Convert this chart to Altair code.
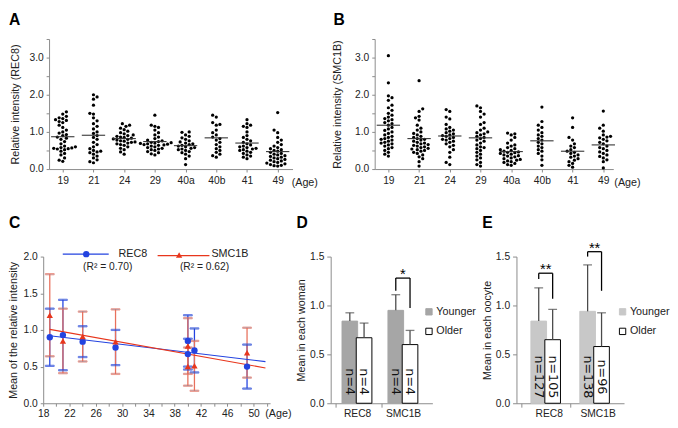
import json
import altair as alt
import pandas as pd

FONT = "Liberation Sans"
TXT = "#222222"
AXC = "#8a8a8a"

# ---------------- Panels A / B : per-oocyte relative intensities ----------------
age_labels = ["19", "21", "24", "29", "40a", "40b", "41", "49"]

rec8_19 = [1.54, 1.48, 1.42, 1.38, 1.36, 1.33, 1.31, 1.28, 1.25, 1.18, 1.12, 1.05, 1.00, 0.97, 0.93, 0.90, 0.86, 0.83,
           0.80, 0.74, 0.68, 0.62, 0.60, 0.58, 0.57, 0.56, 0.55, 0.54, 0.52, 0.48, 0.42, 0.38, 0.30, 0.24, 0.21]
rec8_21 = [2.00, 1.94, 1.88, 1.72, 1.50, 1.48, 1.38, 1.30, 1.22, 1.15, 1.08, 1.00, 0.96, 0.90, 0.85, 0.80, 0.72, 0.66,
           0.60, 0.55, 0.50, 0.48, 0.46, 0.44, 0.40, 0.35, 0.30, 0.25, 0.20, 0.17]
rec8_24 = [1.22, 1.18, 1.15, 1.10, 1.06, 1.02, 0.98, 0.95, 0.92, 0.90, 0.88, 0.86, 0.85, 0.83, 0.81, 0.80, 0.78, 0.76,
           0.75, 0.73, 0.72, 0.70, 0.68, 0.66, 0.64, 0.60, 0.56, 0.52, 0.46, 0.40]
rec8_29 = [1.45, 1.18, 1.15, 1.12, 1.05, 0.98, 0.92, 0.86, 0.82, 0.78, 0.76, 0.74, 0.72, 0.71, 0.70, 0.69, 0.68, 0.67,
           0.66, 0.65, 0.64, 0.62, 0.60, 0.58, 0.56, 0.54, 0.52, 0.50, 0.47, 0.44, 0.41, 0.38]
rec8_40a = [1.00, 0.99, 0.92, 0.88, 0.84, 0.80, 0.76, 0.73, 0.70, 0.68, 0.66, 0.64, 0.62, 0.60, 0.58, 0.56, 0.54, 0.52,
            0.50, 0.47, 0.44, 0.40, 0.35, 0.28, 0.12]
rec8_40b = [1.45, 1.40, 1.25, 1.20, 1.18, 1.05, 0.98, 0.92, 0.86, 0.82, 0.78, 0.72, 0.66, 0.60, 0.55, 0.50, 0.45, 0.40,
            0.36, 0.32]
rec8_41 = [1.33, 1.22, 1.18, 1.15, 1.12, 1.00, 0.90, 0.85, 0.80, 0.76, 0.72, 0.68, 0.65, 0.62, 0.60, 0.58, 0.56, 0.54,
           0.52, 0.50, 0.48, 0.45, 0.42, 0.38, 0.35, 0.32, 0.28]
rec8_49 = [1.52, 1.05, 0.98, 0.85, 0.78, 0.72, 0.66, 0.62, 0.58, 0.55, 0.52, 0.50, 0.48, 0.45, 0.42, 0.40, 0.38, 0.36,
           0.34, 0.32, 0.30, 0.28, 0.26, 0.24, 0.22, 0.20, 0.18, 0.16, 0.14, 0.12, 0.10, 0.09, 0.08]
rec8_mean_lines = [0.87, 0.91, 0.82, 0.74, 0.63, 0.84, 0.70, 0.47]

smc1b_19 = [3.05, 2.32, 1.97, 1.92, 1.85, 1.72, 1.65, 1.58, 1.50, 1.45, 1.40, 1.36, 1.33, 1.30, 1.25, 1.22, 1.18, 1.12,
            1.08, 1.04, 1.00, 0.96, 0.92, 0.88, 0.85, 0.82, 0.80, 0.78, 0.75, 0.72, 0.70, 0.68, 0.65, 0.62, 0.58, 0.55,
            0.50, 0.45, 0.40, 0.35]
smc1b_21 = [2.38, 1.62, 1.55, 1.42, 1.38, 1.32, 1.18, 1.10, 1.05, 1.00, 0.96, 0.92, 0.88, 0.85, 0.82, 0.80, 0.78, 0.75,
            0.72, 0.70, 0.68, 0.66, 0.64, 0.62, 0.60, 0.58, 0.56, 0.54, 0.52, 0.50, 0.48, 0.45, 0.42, 0.38, 0.33, 0.28,
            0.20, 0.08]
smc1b_24 = [1.60, 1.55, 1.40, 1.35, 1.20, 1.12, 1.08, 1.05, 1.02, 0.98, 0.95, 0.92, 0.90, 0.88, 0.85, 0.82, 0.80, 0.78,
            0.75, 0.72, 0.68, 0.64, 0.60, 0.52, 0.45, 0.32, 0.18, 0.12]
smc1b_29 = [1.70, 1.65, 1.55, 1.48, 1.40, 1.25, 1.20, 1.10, 1.05, 1.00, 0.98, 0.95, 0.92, 0.88, 0.85, 0.82, 0.78, 0.75,
            0.70, 0.65, 0.60, 0.58, 0.55, 0.50, 0.45, 0.40, 0.35, 0.30, 0.25, 0.18, 0.12, 0.08]
smc1b_40a = [0.97, 0.95, 0.92, 0.85, 0.78, 0.70, 0.65, 0.62, 0.58, 0.55, 0.52, 0.50, 0.48, 0.46, 0.45, 0.44, 0.42, 0.40,
             0.38, 0.36, 0.35, 0.33, 0.30, 0.28, 0.26, 0.24, 0.22, 0.20, 0.18, 0.15, 0.12, 0.10]
smc1b_40b = [1.67, 1.28, 1.18, 1.12, 1.05, 0.98, 0.92, 0.88, 0.82, 0.78, 0.72, 0.68, 0.62, 0.58, 0.52, 0.48, 0.42, 0.35,
             0.25, 0.10]
smc1b_41 = [1.38, 1.12, 0.85, 0.78, 0.68, 0.62, 0.58, 0.52, 0.48, 0.45, 0.42, 0.38, 0.35, 0.32, 0.28, 0.24, 0.20, 0.15,
            0.10, 0.05]
smc1b_49 = [1.56, 1.18, 1.10, 1.02, 0.92, 0.88, 0.86, 0.84, 0.80, 0.76, 0.72, 0.68, 0.62, 0.58, 0.55, 0.50, 0.46, 0.42,
            0.38, 0.34, 0.30, 0.25, 0.20, 0.03]
smc1b_mean_lines = [1.18, 0.82, 0.89, 0.84, 0.47, 0.76, 0.48, 0.65]

rec8_groups = [rec8_19, rec8_21, rec8_24, rec8_29, rec8_40a, rec8_40b, rec8_41, rec8_49]
smc1b_groups = [smc1b_19, smc1b_21, smc1b_24, smc1b_29, smc1b_40a, smc1b_40b, smc1b_41, smc1b_49]

# ---------------- Panel C : mean +/- SD per woman ----------------
c_age = [19, 21, 24, 29, 40, 40, 41, 49]
c_rec8_mean = [0.90, 0.93, 0.84, 0.76, 0.67, 0.85, 0.72, 0.50]
c_rec8_sd = [0.39, 0.48, 0.21, 0.24, 0.21, 0.35, 0.30, 0.30]
c_smc1b_mean = [1.20, 0.85, 0.91, 0.84, 0.50, 0.78, 0.51, 0.69]
c_smc1b_sd = [0.56, 0.44, 0.34, 0.44, 0.26, 0.38, 0.34, 0.34]
c_series = ["REC8", "SMC1B"]
c_r2 = ["(R\u00b2 = 0.70)", "(R\u00b2 = 0.62)"]

# ---------------- Panels D / E : younger vs older ----------------
proteins = ["REC8", "SMC1B"]
groups = ["Younger", "Older"]

d_young_mean = [0.84, 0.95]
d_young_upper = [0.925, 1.11]
d_old_mean = [0.67, 0.60]
d_old_upper = [0.82, 0.745]
d_young_n = [4, 4]
d_old_n = [4, 4]
d_brackets = [("SMC1B", 1.15, 1.28, 0.975, "*")]   # protein, left end, top, right end, label

e_young_mean = [0.84, 0.94]
e_young_upper = [1.18, 1.415]
e_old_mean = [0.65, 0.58]
e_old_upper = [0.96, 0.925]
e_young_n = [127, 138]
e_old_n = [105, 96]
e_brackets = [("REC8", 1.27, 1.33, 1.07, "**"), ("SMC1B", 1.50, 1.55, 1.15, "**")]

BLUE = "#2343e0"
RED = "#e8361c"
RED_ERR = "#e8705c"

RES_SCALES = dict(color="independent", stroke="independent", fill="independent", shape="independent")
RES_LEGENDS = dict(color="independent", stroke="independent", fill="independent", shape="independent")


def swarm(vals, px_per_unit, diam=3.7, step=1.85):
    placed = []
    out = []
    for v in vals:
        y = v * px_per_unit
        k = 0
        while True:
            cands = [0.0] if k == 0 else ([k * step, -k * step] if len(placed) % 2 == 0 else [-k * step, k * step])
            hit = None
            for cx in cands:
                if all((cx - px) ** 2 + (y - py) ** 2 >= diam ** 2 for px, py in placed):
                    hit = cx
                    break
            if hit is not None:
                break
            k += 1
        placed.append((hit, y))
        out.append((v, hit))
    return out


def letter(t, x, y):
    return alt.Chart(pd.DataFrame({"t": [t]})).mark_text(
        align="left", baseline="alphabetic", fontSize=16, fontWeight="bold", font=FONT, color="black"
    ).encode(text="t:N", x=alt.value(x), y=alt.value(y))


def dot_panel(groups_vals, means, ytitle, width, letter_txt, letter_x, title_x, age_x):
    height = 133
    ppu = height / 3.5
    ppc = 31.4
    d0 = -0.446
    d1 = d0 + width / ppc
    rows = []
    for i, vals in enumerate(groups_vals):
        for v, dx in swarm(sorted(vals), ppu):
            rows.append({"pos": i + dx / ppc, "value": v})
    pts = pd.DataFrame(rows)
    mdf = pd.DataFrame({"idx": list(range(len(means))), "mean": means})
    xscale = alt.Scale(domain=[d0, d1], nice=False, zero=False)
    yscale = alt.Scale(domain=[0, 3.5], nice=False, zero=False)
    xaxis = alt.Axis(values=list(range(len(age_labels))),
                     labelExpr=json.dumps(age_labels) + "[datum.value]",
                     title="(Age)", titleX=age_x, titleY=14, titleAngle=0, titleAlign="center",
                     titleBaseline="middle", titleFontWeight="normal", titleFontSize=11, titleFont=FONT,
                     titleColor=TXT, labelFlush=False, labelOverlap=False, tickSize=3, labelPadding=4,
                     labelFontSize=10.5, labelFont=FONT, labelColor=TXT, domainColor=AXC, tickColor=AXC, grid=False)
    yaxis = alt.Axis(values=[0, 0.5, 1, 1.5, 2, 2.5, 3, 3.5],
                     labelExpr="datum.value % 1 === 0 ? format(datum.value, '.1f') : ''",
                     title=ytitle, titleX=title_x, titleBaseline="middle", titleFontWeight="normal",
                     titleFontSize=11, titleFont=FONT, titleColor=TXT, tickSize=3, labelPadding=3,
                     labelFontSize=10.5, labelFont=FONT, labelColor=TXT, domainColor=AXC, tickColor=AXC,
                     labelFlush=False, grid=False)
    dots = alt.Chart(pts).mark_circle(size=11, color="black", opacity=1).encode(
        x=alt.X("pos:Q", scale=xscale, axis=xaxis),
        y=alt.Y("value:Q", scale=yscale, axis=yaxis),
    )
    lines = alt.Chart(mdf).transform_calculate(
        x1="datum.idx - 0.38", x2="datum.idx + 0.38"
    ).mark_rule(color="#333333", strokeWidth=1.1).encode(
        x=alt.X("x1:Q", scale=xscale, axis=xaxis), x2="x2:Q",
        y=alt.Y("mean:Q", scale=yscale, axis=yaxis),
    )
    return alt.layer(dots, lines, letter(letter_txt, letter_x, -14)).properties(width=width, height=height)


chart_a = dot_panel(rec8_groups, rec8_mean_lines, "Relative intensity (REC8)", 249, "A", -41, -34.5, 261)
chart_b = dot_panel(smc1b_groups, smc1b_mean_lines, "Relative intensity (SMC1B)", 244, "B", -42, -37.5, 258)

# ---------------- Panel C ----------------
cdf = pd.DataFrame({
    "age": c_age + c_age,
    "mean": c_rec8_mean + c_smc1b_mean,
    "sd": c_rec8_sd + c_smc1b_sd,
    "protein": [c_series[0]] * len(c_age) + [c_series[1]] * len(c_age),
})
cdf["lo"] = cdf["mean"] - cdf["sd"]
cdf["hi"] = cdf["mean"] + cdf["sd"]

cx = alt.Scale(domain=[18, 52.5], nice=False, zero=False)
cy = alt.Scale(domain=[0, 2], nice=False, zero=False)
c_xaxis = alt.Axis(values=list(range(18, 53, 2)), labelExpr="(datum.value - 18) % 4 === 0 ? datum.value : ''",
                   title="(Age)", titleX=240, titleY=11, titleAngle=0, titleAlign="center", titleBaseline="middle",
                   titleFontWeight="normal", titleFontSize=11, titleFont=FONT, titleColor=TXT, tickSize=3,
                   labelPadding=3, labelFontSize=10.5, labelFont=FONT, labelColor=TXT, domainColor=AXC,
                   tickColor=AXC, labelFlush=False, labelOverlap=False, grid=False)
c_yaxis = alt.Axis(values=[0, 0.5, 1, 1.5, 2], format=".1f", title="Mean of the relative intensity", titleX=-30,
                   titleBaseline="middle", titleFontWeight="normal", titleFontSize=11, titleFont=FONT,
                   titleColor=TXT, tickSize=3, labelPadding=3, labelFontSize=10.5, labelFont=FONT, labelColor=TXT,
                   domainColor=AXC, tickColor=AXC, labelFlush=False, grid=False)
ccol = alt.Color("protein:N", scale=alt.Scale(domain=c_series, range=[BLUE, RED]), legend=None)
cstroke = alt.Stroke("protein:N", scale=alt.Scale(domain=c_series, range=[BLUE, RED_ERR]), legend=None)

base_c = alt.Chart(cdf)
c_err = base_c.mark_rule(strokeWidth=1.3).encode(
    x=alt.X("age:Q", scale=cx, axis=c_xaxis), y=alt.Y("lo:Q", scale=cy, axis=c_yaxis), y2="hi:Q", stroke=cstroke)
c_cap_lo = base_c.mark_tick(orient="horizontal", size=9, thickness=1.3).encode(
    x=alt.X("age:Q", scale=cx, axis=c_xaxis), y=alt.Y("lo:Q", scale=cy, axis=c_yaxis), stroke=cstroke)
c_cap_hi = base_c.mark_tick(orient="horizontal", size=9, thickness=1.3).encode(
    x=alt.X("age:Q", scale=cx, axis=c_xaxis), y=alt.Y("hi:Q", scale=cy, axis=c_yaxis), stroke=cstroke)
c_reg = base_c.transform_regression("age", "mean", groupby=["protein"], extent=[19, 51.8]).mark_line(
    strokeWidth=1.1).encode(x=alt.X("age:Q", scale=cx, axis=c_xaxis), y=alt.Y("mean:Q", scale=cy, axis=c_yaxis),
                            color=ccol)
c_pts = base_c.mark_point(filled=True, size=42, opacity=1).encode(
    x=alt.X("age:Q", scale=cx, axis=c_xaxis), y=alt.Y("mean:Q", scale=cy, axis=c_yaxis), color=ccol,
    shape=alt.Shape("protein:N", scale=alt.Scale(domain=c_series, range=["circle", "triangle-up"]), legend=None))

one = pd.DataFrame({"a": [0]})
leg_c = [
    alt.Chart(one).mark_rule(color=BLUE, strokeWidth=1.1).encode(x=alt.value(20), x2=alt.value(67), y=alt.value(-2.5)),
    alt.Chart(one).mark_point(filled=True, size=42, opacity=1, shape="circle", color=BLUE).encode(
        x=alt.value(44), y=alt.value(-2.5)),
    alt.Chart(one).mark_text(align="left", baseline="middle", fontSize=11, font=FONT, color=TXT, text=c_series[0]).encode(
        x=alt.value(77), y=alt.value(-2.5)),
    alt.Chart(one).mark_text(align="center", baseline="middle", fontSize=10.5, font=FONT, color=TXT, text=c_r2[0]).encode(
        x=alt.value(66), y=alt.value(11)),
    alt.Chart(one).mark_rule(color=RED, strokeWidth=1.1).encode(x=alt.value(117), x2=alt.value(170), y=alt.value(-1)),
    alt.Chart(one).mark_point(filled=True, size=42, opacity=1, shape="triangle-up", color=RED).encode(
        x=alt.value(139), y=alt.value(-1.5)),
    alt.Chart(one).mark_text(align="left", baseline="middle", fontSize=11, font=FONT, color=TXT, text=c_series[1]).encode(
        x=alt.value(172), y=alt.value(-2.5)),
    alt.Chart(one).mark_text(align="center", baseline="middle", fontSize=10.5, font=FONT, color=TXT, text=c_r2[1]).encode(
        x=alt.value(165), y=alt.value(11)),
]

chart_c = alt.layer(c_err, c_cap_lo, c_cap_hi, c_reg, c_pts, *leg_c, letter("C", -35, -29.5)).properties(
    width=232, height=150)


# ---------------- Panels D / E ----------------
def bar_panel(ymean, yup, omean, oup, yn, on, brackets, young_color, width, y_off, o_off, n_y, ytitle,
              label_offset, legend_x, letter_txt):
    rows = []
    for i, p in enumerate(proteins):
        rows.append({"protein": p, "group": groups[0], "pos": i + y_off, "mean": ymean[i], "upper": yup[i],
                     "n": "n=" + str(yn[i])})
        rows.append({"protein": p, "group": groups[1], "pos": i + o_off, "mean": omean[i], "upper": oup[i],
                     "n": "n=" + str(on[i])})
    df = pd.DataFrame(rows)
    segs = []
    stars = []
    for p, lb, top, rb, lab in brackets:
        i = proteins.index(p)
        xl, xr = i + y_off, i + o_off
        segs.append({"x": xl, "x2": xl, "y": lb, "y2": top})
        segs.append({"x": xl, "x2": xr, "y": top, "y2": top})
        segs.append({"x": xr, "x2": xr, "y": rb, "y2": top})
        stars.append({"x": (xl + xr) / 2, "y": top, "lab": lab})
    sdf = pd.DataFrame(segs)
    stdf = pd.DataFrame(stars)

    xs = alt.Scale(domain=[-0.5, 1.5], nice=False, zero=False)
    ys = alt.Scale(domain=[0, 1.5], nice=False, zero=False)
    xaxis = alt.Axis(values=[-0.5, 0.5], labelExpr="datum.value < 0 ? '%s' : '%s'" % (proteins[0], proteins[1]),
                     labelOffset=label_offset, title=None, tickSize=4, labelPadding=2, labelFontSize=10.5,
                     labelFont=FONT, labelColor=TXT, domainColor=AXC, tickColor=AXC, labelFlush=False, grid=False)
    yaxis = alt.Axis(values=[0, 0.5, 1, 1.5], format=".1f", title=ytitle, titleX=-30, titleBaseline="middle",
                     titleFontWeight="normal", titleFontSize=11, titleFont=FONT, titleColor=TXT, tickSize=4,
                     labelPadding=3, labelFontSize=10.5, labelFont=FONT, labelColor=TXT, domainColor=AXC,
                     tickColor=AXC, labelFlush=False, grid=False)
    leg = alt.Legend(orient="none", legendX=legend_x, legendY=51, title=None, symbolType="square", symbolSize=42,
                     labelFontSize=11, labelFont=FONT, labelColor=TXT, rowPadding=8, labelOffset=2,
                     symbolStrokeWidth=1)
    fill = alt.Fill("group:N", scale=alt.Scale(domain=groups, range=[young_color, "white"]), legend=leg)
    stroke = alt.Stroke("group:N", scale=alt.Scale(domain=groups, range=[young_color, "black"]), legend=leg)
    base = alt.Chart(df)
    bars = base.mark_bar(width=16, strokeWidth=1).encode(
        x=alt.X("pos:Q", scale=xs, axis=xaxis), y=alt.Y("mean:Q", scale=ys, axis=yaxis), fill=fill, stroke=stroke)
    whisk = base.mark_rule(color="#4a4a4a", strokeWidth=1.3).encode(
        x=alt.X("pos:Q", scale=xs, axis=xaxis), y=alt.Y("mean:Q", scale=ys, axis=yaxis), y2="upper:Q")
    caps = base.mark_tick(orient="horizontal", size=9, thickness=1.3, color="#4a4a4a").encode(
        x=alt.X("pos:Q", scale=xs, axis=xaxis), y=alt.Y("upper:Q", scale=ys, axis=yaxis))
    nlab = base.mark_text(angle=90, align="center", baseline="middle", fontSize=13, font="DejaVu Sans",
                          color="#111111").encode(x=alt.X("pos:Q", scale=xs, axis=xaxis), y=alt.datum(n_y),
                                                  text="n:N")
    brk = alt.Chart(sdf).mark_rule(color="black", strokeWidth=1.3).encode(
        x=alt.X("x:Q", scale=xs, axis=xaxis), x2="x2:Q", y=alt.Y("y:Q", scale=ys, axis=yaxis), y2="y2:Q")
    st = alt.Chart(stdf).mark_text(align="center", baseline="alphabetic", fontSize=15, font=FONT, dy=1,
                                   color="black").encode(
        x=alt.X("x:Q", scale=xs, axis=xaxis), y=alt.Y("y:Q", scale=ys, axis=yaxis), text="lab:N")
    return alt.layer(bars, whisk, caps, nlab, brk, st, letter(letter_txt, -35, -29.5)).properties(
        width=width, height=150)


chart_d = bar_panel(d_young_mean, d_young_upper, d_old_mean, d_old_upper, d_young_n, d_old_n, d_brackets,
                    "#a6a6a6", 104, -0.19, 0.12, 0.22, "Mean in each woman", 22, 95, "D")
chart_e = bar_panel(e_young_mean, e_young_upper, e_old_mean, e_old_upper, e_young_n, e_old_n, e_brackets,
                    "#c8c8c8", 110, -0.145, 0.14, 0.27, "Mean in each oocyte", 28, 103, "E")

spacer = alt.Chart(one).mark_point(opacity=0).properties(width=6, height=133)

row1 = alt.hconcat(spacer, alt.hconcat(chart_a, chart_b, spacing=84, bounds="flush"), spacing=0, bounds="flush")
de = alt.hconcat(chart_d, chart_e, spacing=86, bounds="flush").resolve_scale(**RES_SCALES).resolve_legend(
    **RES_LEGENDS)
row2 = alt.hconcat(chart_c, de, spacing=62, bounds="flush").resolve_scale(**RES_SCALES).resolve_legend(
    **RES_LEGENDS)

# nested concat groups count as zero-height in flush layout, so the row height is part of the spacing
chart = alt.vconcat(row1, row2, spacing=133 + 89.5, bounds="flush").properties(padding=0).configure_view(
    stroke=None).resolve_scale(**RES_SCALES).resolve_legend(**RES_LEGENDS)

chart.save("out.html", embed_options={"renderer": "svg", "actions": False})
